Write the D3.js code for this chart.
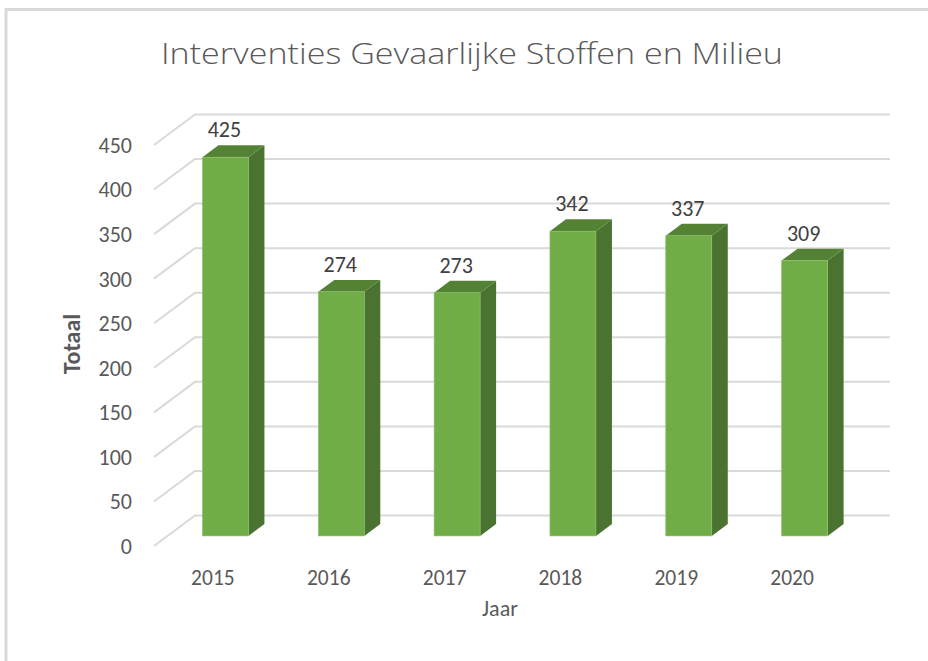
<!DOCTYPE html>
<html><head><meta charset="utf-8">
<script src="https://cdn.jsdelivr.net/npm/d3@7"></script>
<style>
html,body{margin:0;padding:0;background:#fff;}
svg{display:block;font-family:Carlito, Lato, "Open Sans", sans-serif;}
</style></head>
<body>
<svg id="c" width="928" height="661"></svg>
<script>
const years = ["2015","2016","2017","2018","2019","2020"];
const totals = [425, 274, 273, 342, 337, 309];
const yTicks = [0,50,100,150,200,250,300,350,400,450];
const titleText = "Interventies Gevaarlijke Stoffen en Milieu";
const yAxisTitle = "Totaal";
const xAxisTitle = "Jaar";

const svg = d3.select("#c");
const W = 928, H = 661;

// frame
svg.append("rect").attr("x",0).attr("y",0).attr("width",W).attr("height",H).attr("fill","#fff");
svg.append("path").attr("d","M6,661 V9.5 H928").attr("fill","none").attr("stroke","#d9d9d9").attr("stroke-width",3);

// plane geometry
const front = {x0:154, x1:849};
const depth = {dx:41, dy:-30.5};
const y = d3.scaleLinear().domain([0,450]).range([546,145]);
const x = d3.scaleBand().domain(years).range([front.x0, front.x1]);

// gridlines (floor/back wall)
const g = svg.append("g");
yTicks.forEach(t => {
  const yy = y(t);
  g.append("path")
    .attr("d", `M${front.x0},${yy} L${front.x0+depth.dx},${yy+depth.dy} L${front.x1+depth.dx},${yy+depth.dy}`)
    .attr("fill","none").attr("stroke","#d9d9d9").attr("stroke-width",2);
});

// y tick labels
svg.append("g").selectAll("text").data(yTicks).join("text")
  .attr("x",132).attr("y",d=>y(d)).attr("dy","0.36em")
  .attr("text-anchor","end").attr("fill","#595959").attr("font-size",22)
  .text(d=>d);

// bars
const tF = 0.33, tB = 0.72; // bar front/back depth fraction
const barW = 46;
const bars = svg.append("g");
years.forEach((yr,i) => {
  const v = totals[i];
  const cx = x(yr) + x.bandwidth()/2 + depth.dx*tF;
  const x0 = cx - barW/2, x1 = cx + barW/2;
  const yb = y(0) + depth.dy*tF, yt = y(v) + depth.dy*tF;
  const ddx = depth.dx*(tB-tF), ddy = depth.dy*(tB-tF);
  // side
  bars.append("path").attr("d",`M${x1},${yb} L${x1+ddx},${yb+ddy} L${x1+ddx},${yt+ddy} L${x1},${yt} Z`)
    .attr("fill","#4a7230");
  // top
  bars.append("path").attr("d",`M${x0},${yt} L${x0+ddx},${yt+ddy} L${x1+ddx},${yt+ddy} L${x1},${yt} Z`)
    .attr("fill","#548235");
  // front
  bars.append("rect").attr("x",x0).attr("y",yt).attr("width",barW).attr("height",yb-yt)
    .attr("fill","#70ad47").attr("stroke","#8cc168").attr("stroke-width",0.6);
  // label
  bars.append("text").attr("x",cx-1).attr("y",yt+ddy-8)
    .attr("text-anchor","middle").attr("fill","#404040").attr("font-size",22).text(v);
});

// x labels
svg.append("g").selectAll("text").data(years).join("text")
  .attr("x",d=>x(d)+x.bandwidth()/2+1).attr("y",585)
  .attr("text-anchor","middle").attr("fill","#595959").attr("font-size",21.5)
  .text(d=>d);

// titles
svg.append("text").attr("x",472).attr("y",64).attr("text-anchor","middle")
  .attr("fill","#595959").attr("font-size",30).attr("font-weight",300)
  .style("font-family","'Open Sans', Lato, sans-serif")
  .attr("textLength",622).attr("lengthAdjust","spacingAndGlyphs").text(titleText);
svg.append("text").attr("transform","translate(80,344) rotate(-90)").attr("text-anchor","middle")
  .attr("fill","#595959").attr("font-size",24).attr("font-weight","bold").text(yAxisTitle);
svg.append("text").attr("x",500).attr("y",616).attr("text-anchor","middle")
  .attr("fill","#595959").attr("font-size",22).text(xAxisTitle);
</script>
</body></html>
